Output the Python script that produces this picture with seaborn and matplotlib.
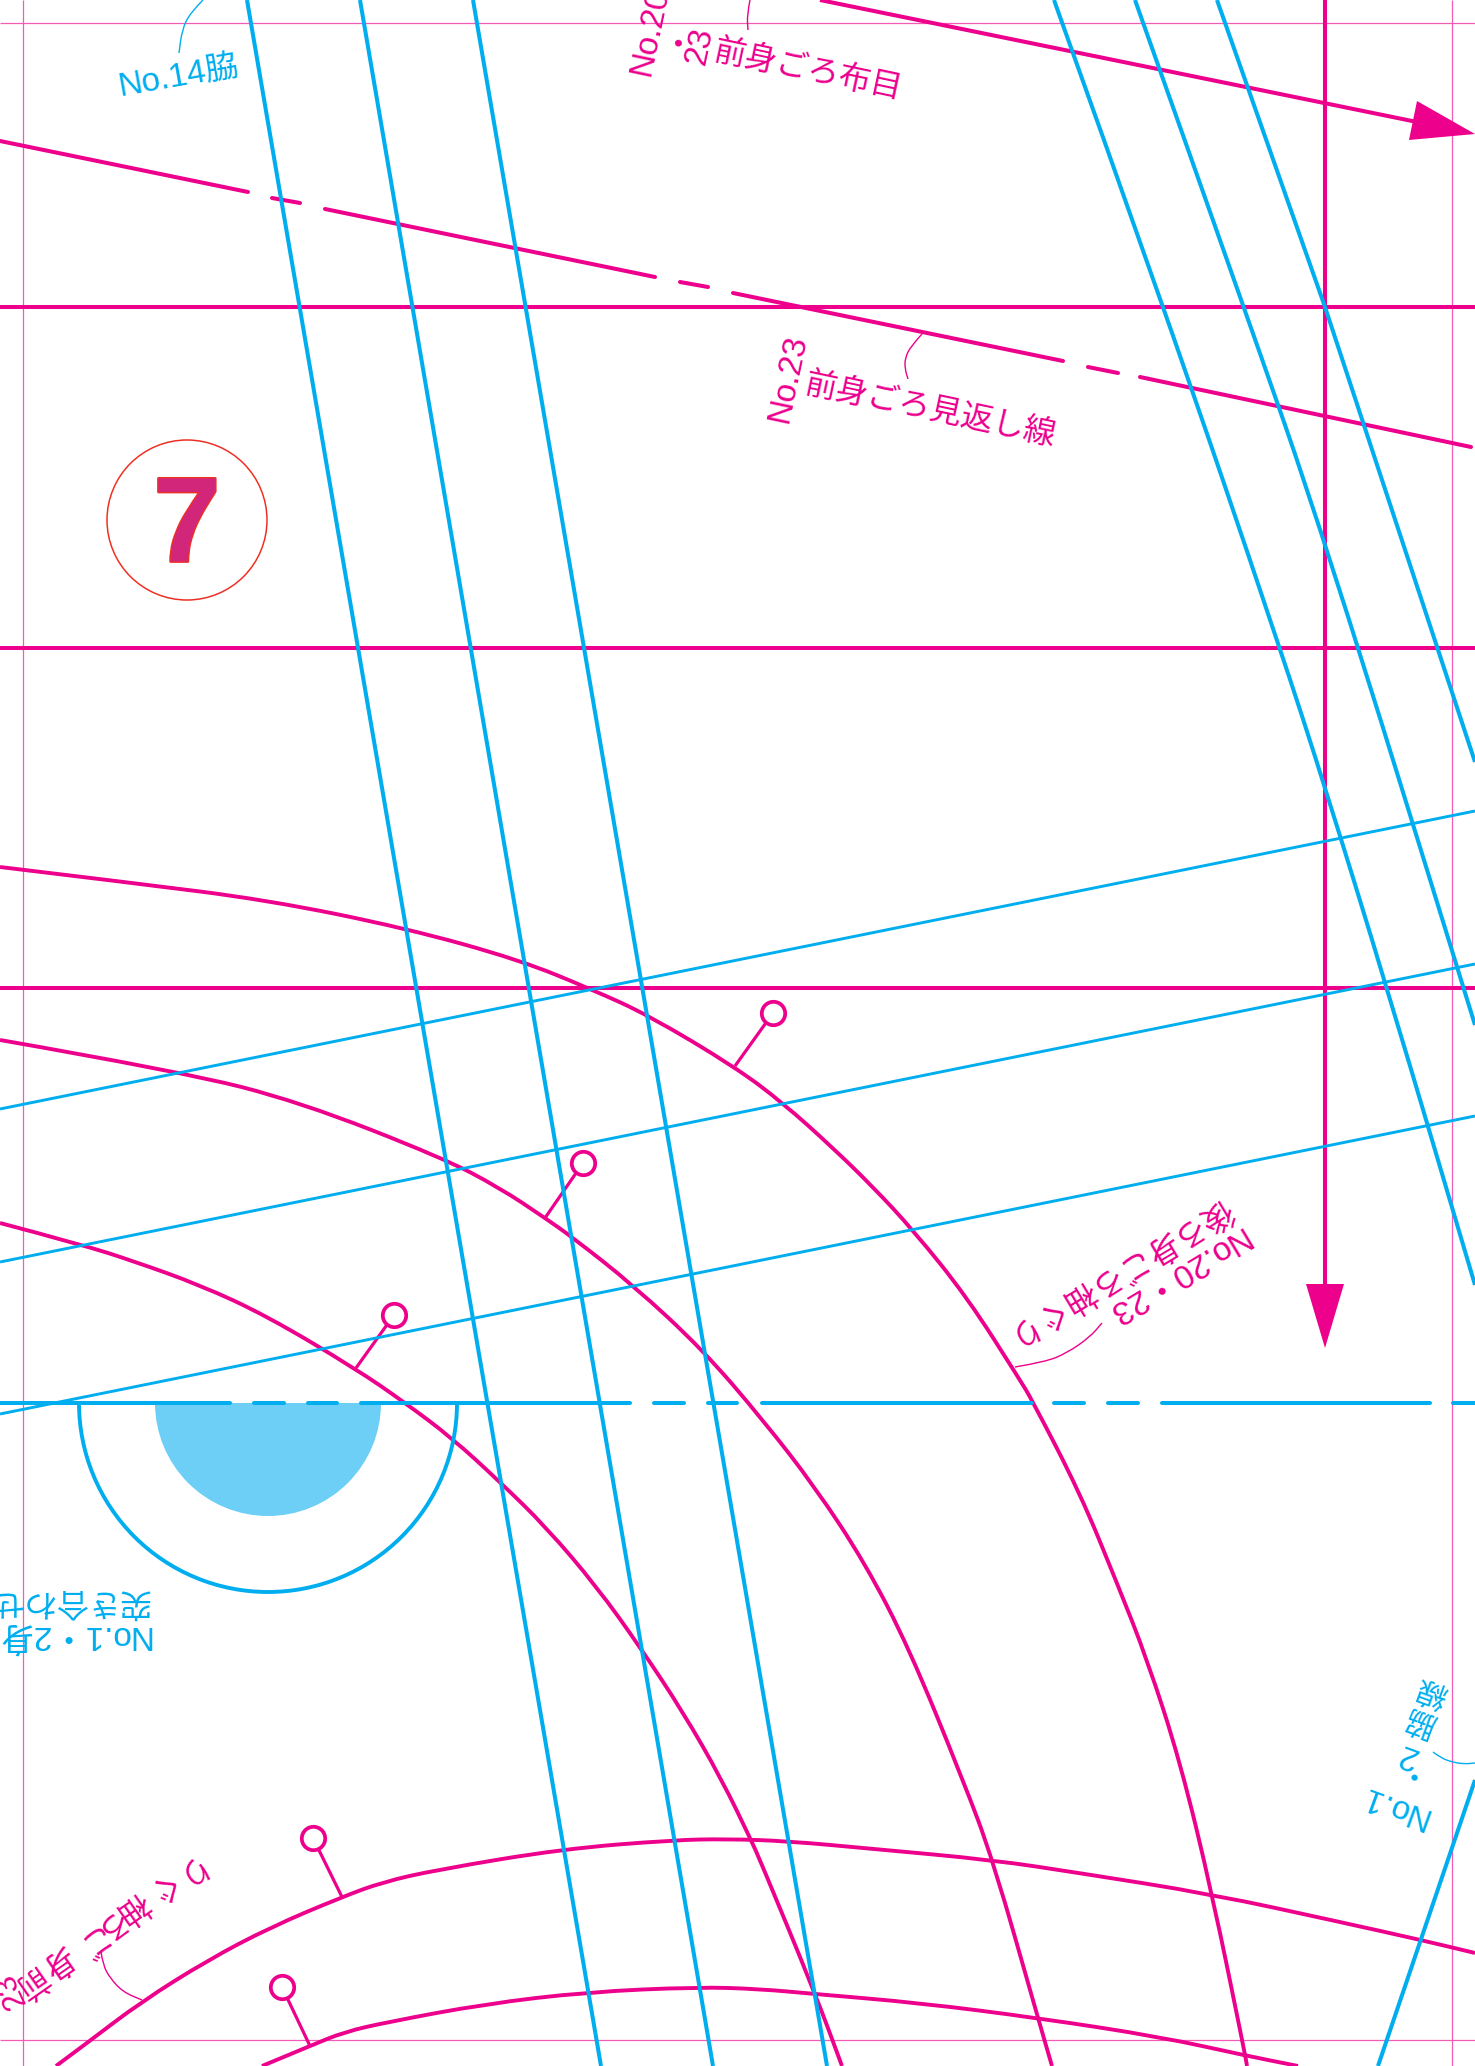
# sewing pattern sheet, page 7
import matplotlib
matplotlib.use("Agg")
import matplotlib.pyplot as plt
import matplotlib.patheffects as pe
from matplotlib.patches import Arc, Wedge, PathPatch
from matplotlib.path import Path
import seaborn as sns

MAGENTA = "#ec008c"
BLUE = "#00aeef"
LIGHT_BLUE = "#6dcff6"
MARGIN = "#f25cb4"
RED = "#ee3124"
SEVEN = "#d2267a"

# crop margins
margin_v = [23, 1452]
margin_h = [23, 2040]

# straight magenta guides
guide_h = [307, 648, 988]
grain_x = [820, 1417]
grain_y = [0, 122]
grain_head_x = [1417, 1409, 1475]
grain_head_y = [101, 140, 134]
down_x = [1325, 1325]
down_y = [0, 1285]
down_head_x = [1306, 1344, 1325]
down_head_y = [1284, 1284, 1348]

# facing line, broken
facing_x = [(0, 248), (272, 300), (325, 655), (680, 708), (733, 1063), (1088, 1118), (1140, 1471)]
facing_y = [(141, 192), (198, 203), (209, 277), (282, 287), (293, 361), (367, 373), (377, 447)]

# armhole curves
curve1_x = [0, 133, 267, 405, 520, 593, 648, 735, 783, 833, 873, 913, 967, 1020, 1032, 1080, 1117, 1147, 1180, 1212, 1245, 1247]
curve1_y = [867, 883, 900, 928, 960, 990, 1015, 1067, 1103, 1148, 1187, 1230, 1297, 1380, 1400, 1493, 1583, 1659, 1761, 1893, 2054, 2066]
curve2_x = [0, 183, 300, 443, 500, 545, 572, 633, 703, 763, 815, 865, 909, 963, 993, 1038, 1052]
curve2_y = [1040, 1072, 1102, 1158, 1188, 1218, 1237, 1285, 1350, 1420, 1487, 1563, 1648, 1780, 1860, 2018, 2066]
curve3_x = [0, 83, 133, 200, 267, 356, 404, 452, 500, 546, 597, 640, 683, 722, 751, 760, 815, 842]
curve3_y = [1223, 1245, 1261, 1285, 1316, 1369, 1402, 1438, 1482, 1527, 1587, 1647, 1712, 1780, 1840, 1860, 1993, 2066]
curve4_x = [56, 87, 141, 208, 271, 342, 383, 436, 562, 674, 727, 787, 874, 993, 1079, 1211, 1340, 1421, 1475]
curve4_y = [2066, 2043, 2002, 1960, 1927, 1897, 1882, 1870, 1849, 1840, 1839, 1841, 1849, 1860, 1873, 1894, 1922, 1940, 1953]
curve5_x = [262, 310, 344, 388, 485, 587, 698, 760, 815, 920, 1038, 1161, 1243, 1298]
curve5_y = [2066, 2046, 2032, 2022, 2004, 1992, 1987, 1989, 1994, 2003, 2018, 2037, 2055, 2066]

# notch pins: base on curve, ring at the other end
pin_base_x = [735, 545, 356, 342, 310]
pin_base_y = [1066, 1218, 1368, 1897, 2046]
pin_ring_x = [773, 583, 394, 313, 282]
pin_ring_y = [1013, 1163, 1315, 1838, 1987]

# blue lines
steep_x = [(247, 601), (360, 713), (473, 827)]
steep_y = [(0, 2066), (0, 2066), (0, 2066)]
right1_x = [1054, 1165, 1280, 1325, 1387, 1475]
right1_y = [0, 310, 648, 787, 988, 1285]
right2_x = [1135, 1244, 1325, 1475]
right2_y = [0, 307, 540, 1025]
right3_x = [1217, 1325, 1475]
right3_y = [0, 307, 762]
shallow_x = [0, 1475]
shallow_y = [(1109, 811), (1262, 964), (1414, 1116)]
corner_x = [1475, 1378]
corner_y = [1780, 2066]

# broken fold line
fold_y = 1403
fold_x = [(0, 230), (254, 284), (308, 337), (361, 630), (654, 684), (708, 737), (762, 1032), (1054, 1084), (1108, 1138), (1162, 1430), (1453, 1475)]

hem_cx = 268
hem_outer = 189
hem_inner = 113

# leader lines
lead14_x = [203, 190, 182, 179]
lead14_y = [0, 13, 30, 53]
leadgrain_x = [750, 747, 748]
leadgrain_y = [0, 15, 30]
leadfacing_x = [922, 911, 905, 905, 908]
leadfacing_y = [334, 346, 358, 369, 379]
leadback_x = [1015, 1045, 1067, 1090, 1102]
leadback_y = [1367, 1362, 1353, 1337, 1323]
leadfront_x = [101, 103, 110, 123, 142]
leadfront_y = [1952, 1965, 1978, 1992, 2000]
leadside_x = [1433, 1441, 1452, 1464, 1475]
leadside_y = [1752, 1758, 1762, 1764, 1763]

badge_x = 187
badge_y = 520
badge_r = 80

# this label is set backwards on the sheet, one glyph at a time
front_chars = ["前", "身", "ご", "ろ", "袖", "ぐ", "り"]
front_char_x = [30, 56, 87, 107, 132, 155, 182]
front_char_y = [1981, 1961, 1941, 1924, 1907, 1887, 1871]

sns.set_theme(style="white")
plt.rcParams["font.family"] = ["Liberation Sans", "Noto Sans CJK JP"]

fig = plt.figure(figsize=(14.75, 20.66), dpi=100)
ax = fig.add_axes([0, 0, 1, 1])


def trace(xs, ys, color, lw, cap="butt", z=2):
    sns.lineplot(x=list(xs), y=list(ys), sort=False, estimator=None, errorbar=None, legend=False,
                 color=color, linewidth=lw, solid_capstyle=cap, zorder=z, ax=ax)


def smooth(xs, ys, color, lw, z=2):
    # read points act as quadratic control points so the curve has no corners
    pts = list(zip(xs, ys))
    verts = [pts[0]]
    codes = [Path.MOVETO]
    for i in range(1, len(pts) - 1):
        mid = ((pts[i][0] + pts[i + 1][0]) / 2, (pts[i][1] + pts[i + 1][1]) / 2)
        verts += [pts[i], mid]
        codes += [Path.CURVE3, Path.CURVE3]
    verts.append(pts[-1])
    codes.append(Path.LINETO)
    ax.add_patch(PathPatch(Path(verts, codes), facecolor="none", edgecolor=color, lw=lw, zorder=z))


def label(x, y, s, color, rot, ha="center", va="center", size=23):
    ax.text(x, y, s, color=color, rotation=rot, rotation_mode="anchor", ha=ha, va=va, fontsize=size)


# margins
for x in margin_v:
    trace([x, x], [0, 2066], MARGIN, 0.9, z=1)
for y in margin_h:
    trace([0, 1475], [y, y], MARGIN, 0.9, z=1)

# magenta
for y in guide_h:
    trace([0, 1475], [y, y], MAGENTA, 2.9)
trace(grain_x, grain_y, MAGENTA, 2.9)
ax.fill(grain_head_x, grain_head_y, color=MAGENTA, lw=0, zorder=2)
trace(down_x, down_y, MAGENTA, 2.9)
ax.fill(down_head_x, down_head_y, color=MAGENTA, lw=0, zorder=2)
for xs, ys in zip(facing_x, facing_y):
    trace(xs, ys, MAGENTA, 2.9, cap="round")
for xs, ys in [(curve1_x, curve1_y), (curve2_x, curve2_y), (curve3_x, curve3_y), (curve4_x, curve4_y), (curve5_x, curve5_y)]:
    smooth(xs, ys, MAGENTA, 2.8)

for bx, by, rx, ry in zip(pin_base_x, pin_base_y, pin_ring_x, pin_ring_y):
    trace([bx, rx], [by, ry], MAGENTA, 2.3)
sns.scatterplot(x=pin_ring_x, y=pin_ring_y, s=284, marker="o", facecolor="white", edgecolor=MAGENTA,
                linewidth=2.7, zorder=3, legend=False, ax=ax)

# half circle at the fold
ax.add_patch(Wedge((hem_cx, fold_y), hem_inner, 0, 180, facecolor=LIGHT_BLUE, edgecolor="none", zorder=1.5))
ax.add_patch(Arc((hem_cx, fold_y), 2 * hem_outer, 2 * hem_outer, theta1=0, theta2=180, color=BLUE, lw=2.8, zorder=4))

# blue
for xs, ys in zip(steep_x, steep_y):
    trace(xs, ys, BLUE, 2.9, z=4)
smooth(right1_x, right1_y, BLUE, 2.9, z=4)
smooth(right2_x, right2_y, BLUE, 2.9, z=4)
trace(right3_x, right3_y, BLUE, 2.9, z=4)
for ys in shallow_y:
    trace(shallow_x, ys, BLUE, 2.1, z=4)
trace(corner_x, corner_y, BLUE, 2.9, z=4)
for xs in fold_x:
    trace(xs, [fold_y, fold_y], BLUE, 2.9, cap="round", z=4)

# leaders
smooth(lead14_x, lead14_y, BLUE, 1.0)
smooth(leadside_x, leadside_y, BLUE, 1.0)
smooth(leadgrain_x, leadgrain_y, MAGENTA, 1.0)
smooth(leadfacing_x, leadfacing_y, MAGENTA, 1.0)
smooth(leadback_x, leadback_y, MAGENTA, 1.0)
smooth(leadfront_x, leadfront_y, MAGENTA, 1.0)

# page badge
ax.add_patch(plt.Circle((badge_x, badge_y), badge_r, facecolor="none", edgecolor=RED, lw=1.1, zorder=2))
seven = ax.text(badge_x, badge_y + 10, "7", ha="center", va="center", fontsize=87, fontweight="bold",
                color=SEVEN, zorder=3)
seven.set_path_effects([pe.withStroke(linewidth=2.0, foreground=RED)])

# labels
label(120, 96, "No.14脇", BLUE, 10, ha="left", va="baseline", size=24)

label(649, 77, "No.20", MAGENTA, 78, ha="left", va="baseline", size=24)
label(674, 32, "・", MAGENTA, 78)
label(704, 66, "23", MAGENTA, 78, ha="left", va="baseline", size=24)
label(808, 71, "前身ごろ布目", MAGENTA, -12)

label(787, 424, "No.23", MAGENTA, 78, ha="left", va="baseline", size=24)
label(930, 411, "前身ごろ見返し線", MAGENTA, -12)

label(1240, 1226, "No.20・23", MAGENTA, 211, ha="left", va="baseline", size=24)
label(1119, 1272, "後ろ身ごろ袖ぐり", MAGENTA, 211)

label(150, 1626, "No.1・2身", BLUE, 180, ha="left", va="baseline", size=24)
label(150, 1600, "突き合わせ", BLUE, 180, ha="left")

for ch, cx, cy in zip(front_chars, front_char_x, front_char_y):
    label(cx, cy, ch, MAGENTA, 215)
label(11, 1990, "23", MAGENTA, 115)

label(1430, 1810, "No.1", BLUE, 160, ha="left", va="baseline", size=24)
label(1393, 1769, "・", BLUE, 160, size=22)
label(1408, 1755, "2", BLUE, 160, size=24)
label(1421, 1720, "脇", BLUE, 160, size=22)
label(1432, 1690, "線", BLUE, 160, size=22)

ax.set_xlim(0, 1475)
ax.set_ylim(2066, 0)
ax.axis("off")

plt.savefig("out.png", dpi=100)
